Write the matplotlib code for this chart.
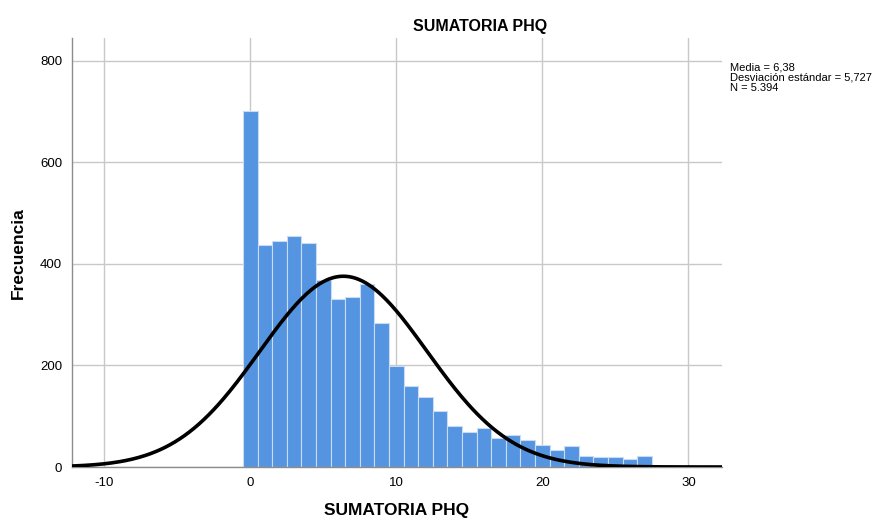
import numpy as np
import matplotlib
matplotlib.use("Agg")
import matplotlib.pyplot as plt

plt.rcParams["font.family"] = ["Liberation Sans", "DejaVu Sans"]
plt.rcParams["axes.unicode_minus"] = False

# PHQ score values (0..27) and their frequencies
scores = list(range(28))
counts = [701, 437, 446, 455, 442, 368, 331, 335, 361, 283,
          199, 159, 137, 111, 80, 69, 77, 58, 64, 53,
          44, 34, 41, 22, 20, 19, 16, 22]

mean = 6.38
std = 5.727
n_total = 5394

fig = plt.figure(figsize=(8.92, 5.19), dpi=100)
ax = fig.add_axes([72 / 892, 1 - 467 / 519, 650 / 892, 429 / 519])

ax.bar(scores, counts, width=1.0, color="#5494e0", edgecolor="#c9dcf3",
       linewidth=0.8, zorder=2)

# normal curve scaled to counts (bin width 1)
xs = np.linspace(-12.2, 32.3, 400)
ys = n_total / (std * np.sqrt(2 * np.pi)) * np.exp(-0.5 * ((xs - mean) / std) ** 2)
ax.plot(xs, ys, color="black", linewidth=2.6, zorder=3)

ax.set_xlim(-12.2, 32.3)
ax.set_ylim(0, 845)
ax.set_xticks([-10, 0, 10, 20, 30])
ax.set_yticks([0, 200, 400, 600, 800])
ax.grid(True, color="#c8c8c8", linewidth=1.0, zorder=0)
ax.set_axisbelow(True)
ax.tick_params(length=0, labelsize=9.5, pad=7)

for side in ["top", "right"]:
    ax.spines[side].set_visible(False)
for side in ["left", "bottom"]:
    ax.spines[side].set_color("#8c8c8c")
    ax.spines[side].set_linewidth(1.0)

# axis titles placed where the reference has them
fig.text(397 / 892, 1 - 511 / 519, "SUMATORIA PHQ", ha="center", va="center",
         fontsize=12.5, fontweight="bold")
fig.text(18 / 892, 1 - 253 / 519, "Frecuencia", ha="center", va="center",
         rotation=90, fontsize=12.5, fontweight="bold")

fig.text(480 / 892, 1 - 27 / 519, "SUMATORIA PHQ", ha="center", va="center",
         fontsize=11.5, fontweight="bold")

fig.text(730 / 892, 1 - 62 / 519,
         "Media = 6,38\nDesviación estándar = 5,727\nN = 5.394",
         ha="left", va="top", fontsize=8, linespacing=1.05)

fig.savefig("out.png", dpi=100)
